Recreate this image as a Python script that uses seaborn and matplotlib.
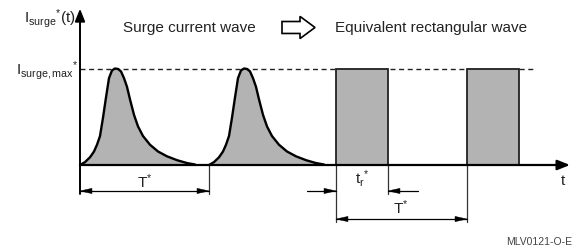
import numpy as np
import pandas as pd
import matplotlib
matplotlib.use("Agg")
import matplotlib.pyplot as plt
from matplotlib.patches import FancyArrow
import seaborn as sns

# ---- data (time in arbitrary units, current normalised to I_surge,max) ----
pulse_t = [0, 5, 10, 14, 17, 20, 23, 26, 29, 32, 35, 38, 41, 44, 47, 50,
           54, 58, 63, 70, 78, 87, 97, 107, 115]
pulse_i = [0, 0.03, 0.08, 0.14, 0.21, 0.30, 0.49, 0.70, 0.90, 0.98, 1.0, 0.995,
           0.97, 0.90, 0.81, 0.68, 0.52, 0.40, 0.30, 0.21, 0.14, 0.09, 0.05,
           0.02, 0.005]
surge_starts = [0, 129]
rect_starts = [256, 387]
rect_width = 52
i_max = 1.0
dashed_end = 455
titles = ["Surge current wave", "Equivalent rectangular wave"]
code_label = "MLV0121-O-E"

sns.set_theme(style="white")
plt.rcParams['font.family'] = ['Liberation Sans', 'DejaVu Sans']
plt.rcParams['mathtext.fontset'] = 'custom'
plt.rcParams['mathtext.rm'] = 'Liberation Sans'
plt.rcParams['mathtext.it'] = 'Liberation Sans'
plt.rcParams['mathtext.bf'] = 'Liberation Sans:bold'

fig = plt.figure(figsize=(5.76, 2.51), dpi=100)
ax = fig.add_axes([0, 0, 1, 1])
XLIM = (-80, 496)
YLIM = (-(251 - 166) / 96.5, 166 / 96.5)

txt_c = '#222222'
fill_c = '#b3b3b3'
dim_c = '#333333'

# surge pulses
frames = []
for k, s in enumerate(surge_starts):
    frames.append(pd.DataFrame({'t': np.array(pulse_t) + s, 'i': pulse_i, 'pulse': k}))
df = pd.concat(frames, ignore_index=True)
for k, s in enumerate(surge_starts):
    sub = df[df.pulse == k]
    ax.fill_between(sub.t, 0, sub.i, color=fill_c, lw=0, zorder=2)
sns.lineplot(data=df, x='t', y='i', units='pulse', estimator=None, color='black',
             lw=1.7, ax=ax, zorder=3, legend=False)
ax.set_xlim(*XLIM)
ax.set_ylim(*YLIM)
ax.axis('off')

# equivalent rectangles
ax.bar(rect_starts, [i_max] * len(rect_starts), width=rect_width, align='edge',
       color=fill_c, edgecolor='#222222', lw=1.3, zorder=2)

# dashed max line
ax.plot([0, dashed_end], [i_max, i_max], color='#222222', lw=1.0,
        ls=(0, (3.6, 2.6)), zorder=1)

# axes arrows
ax.annotate('', xy=(0, 1.62), xytext=(0, -0.30),
            arrowprops=dict(arrowstyle='-|>,head_length=0.75,head_width=0.3',
                            color='black', lw=1.4, shrinkA=0, shrinkB=0,
                            mutation_scale=10), zorder=4)
ax.annotate('', xy=(490, 0), xytext=(0, 0),
            arrowprops=dict(arrowstyle='-|>,head_length=0.75,head_width=0.3',
                            color='black', lw=1.6, shrinkA=0, shrinkB=0,
                            mutation_scale=10), zorder=4)

# dimension lines
def vline(x, y0, y1):
    ax.plot([x, x], [y0, y1], color=dim_c, lw=0.9, zorder=1)

def head(x_tip, y, direction):
    L = 12
    ax.add_patch(FancyArrow(x_tip - direction * L, y, direction * L, 0,
                            width=0.0, head_width=0.055, head_length=L,
                            length_includes_head=True, color='black', lw=0.3,
                            zorder=4))

def dim_arrow(x0, x1, y, both=True):
    ax.plot([x0, x1], [y, y], color='black', lw=0.9, zorder=1)
    d = 1 if x1 > x0 else -1
    head(x1, y, d)
    if both:
        head(x0, y, -d)

T_surge = surge_starts[1] - surge_starts[0]
vline(surge_starts[1], 0, -0.30)
dim_arrow(surge_starts[0], surge_starts[1], -0.269)
ax.text(surge_starts[0] + T_surge / 2, -0.165, r'$\mathregular{T^{*}}$', ha='center',
        va='center', fontsize=11, color=txt_c)

r0, r1 = rect_starts[0], rect_starts[0] + rect_width
vline(r0, 0, -0.59)
vline(r1, 0, -0.30)
vline(rect_starts[1], 0, -0.59)
dim_arrow(r0 - 29, r0, -0.269, both=False)
dim_arrow(r1 + 30, r1, -0.269, both=False)
ax.text((r0 + r1) / 2, -0.125, r'$\mathregular{t_r{}^{*}}$', ha='center', va='center',
        fontsize=11, color=txt_c)
dim_arrow(rect_starts[0], rect_starts[1], -0.56)
ax.text((rect_starts[0] + rect_starts[1]) / 2 - 0.5, -0.435, r'$\mathregular{T^{*}}$',
        ha='center', va='center', fontsize=11, color=txt_c)

# axis labels
ax.text(483, -0.16, 't', ha='center', va='center', fontsize=11, color=txt_c)
ax.text(-4, 1.53, r'$\mathregular{I_{surge}{}^{*}(t)}$', ha='right', va='center',
        fontsize=11, color=txt_c)
ax.text(-2, 0.99, r'$\mathregular{I_{surge,max}{}^{*}}$', ha='right', va='center',
        fontsize=11, color=txt_c)

# titles and hollow arrow
ax.text(43, 1.43, titles[0], ha='left', va='center', fontsize=11, color=txt_c)
ax.text(255, 1.43, titles[1], ha='left', va='center', fontsize=11, color=txt_c)
ax.add_patch(FancyArrow(202, 1.425, 33, 0, width=0.124, head_width=0.23,
                        head_length=15, length_includes_head=True,
                        facecolor='white', edgecolor='black', lw=1.2, zorder=3))

ax.text(492, -0.79, code_label, ha='right', va='center', fontsize=7.5, color='#444444')

fig.savefig('out.png', dpi=100)
